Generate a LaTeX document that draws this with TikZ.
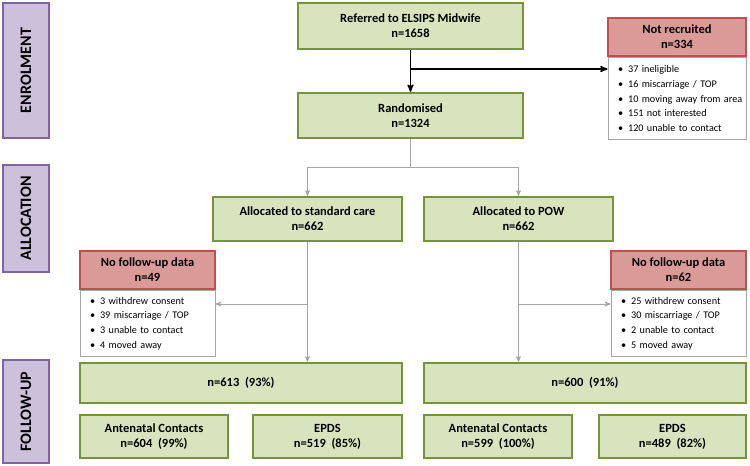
\documentclass[tikz,border=0pt]{standalone}
\usepackage{fontspec}
\setmainfont{Carlito}
\usetikzlibrary{arrows,positioning}
\definecolor{gfill}{HTML}{D7E4BD}
\definecolor{gline}{HTML}{77933C}
\definecolor{rfill}{HTML}{DA9A97}
\definecolor{rline}{HTML}{C0504D}
\definecolor{pfill}{HTML}{CCC0DA}
\definecolor{pline}{HTML}{8064A2}
\definecolor{lgray}{HTML}{A6A6A6}
\newcommand{\itm}[1]{\mbox{\hspace*{7pt}\textbullet\hspace{5pt}#1}}
\begin{document}
\begin{tikzpicture}[x=1pt,y=-1pt,>=stealth',
  phase/.style={draw=pline,fill=pfill,line width=2.2pt,rotate=90,inner sep=0pt,
    font=\fontsize{16}{16}\selectfont\bfseries},
  gbox/.style={draw=gline,fill=gfill,line width=2.2pt,inner sep=0pt,align=center,
    font=\fontsize{12.5}{15}\selectfont\bfseries},
  rbox/.style={draw=rline,fill=rfill,line width=2.2pt,inner sep=0pt,align=center,
    font=\fontsize{12.5}{15}\selectfont\bfseries},
  lbox/.style={draw=lgray,fill=white,line width=0.8pt,inner xsep=3pt,inner ysep=0pt,
    align=left,font=\fontsize{10.2}{14.8}\selectfont},
  conn/.style={draw=lgray,line width=1pt},
  mainconn/.style={draw=black,line width=1.5pt}]
\useasboundingbox (0,0) rectangle (750,466);
\node[phase,minimum width=135,minimum height=46] (enrol) at (26,70.5) {ENROLMENT};
\node[phase,minimum width=107,minimum height=46] (alloc) at (26,218.5) {ALLOCATION};
\node[phase,minimum width=103,minimum height=46] (follow) at (26,411.5) {FOLLOW-UP};

\node[gbox,minimum width=225,minimum height=46] (referred) at (410.5,26) {Referred to ELSIPS Midwife\\n=1658};
\node[gbox,minimum width=225,minimum height=45] (random) at (410.5,115.5) {Randomised\\n=1324};
\node[rbox,minimum width=138,minimum height=38] (notrec) at (677,37) {Not recruited\\n=334};
\node[lbox,text width=132,minimum height=82,below=0pt of notrec] (nrlist)
  {\itm{37 ineligible}\\\itm{16 miscarriage / TOP}\\\itm{10 moving away from area}\\\itm{151 not interested}\\\itm{120 unable to contact}};

\node[gbox,minimum width=189,minimum height=44] (stdcare) at (307.5,219) {Allocated to standard care\\n=662};
\node[gbox,minimum width=189,minimum height=44] (pow) at (518.5,219) {Allocated to POW\\n=662};

\node[rbox,minimum width=135,minimum height=38] (nofu1) at (147.5,270) {No follow-up data\\n=49};
\node[lbox,text width=129,minimum height=66,below=0pt of nofu1] (l1list)
  {\itm{3 withdrew consent}\\\itm{39 miscarriage / TOP}\\\itm{3 unable to contact}\\\itm{4 moved away}};
\node[rbox,minimum width=135,minimum height=38] (nofu2) at (678.5,270) {No follow-up data\\n=62};
\node[lbox,text width=129,minimum height=66,below=0pt of nofu2] (l2list)
  {\itm{25 withdrew consent}\\\itm{30 miscarriage / TOP}\\\itm{2 unable to contact}\\\itm{5 moved away}};

\node[gbox,minimum width=322,minimum height=40] (fu1) at (241,383) {n=613~~(93\%)};
\node[gbox,minimum width=322,minimum height=40] (fu2) at (585,383) {n=600~~(91\%)};
\node[gbox,minimum width=148,minimum height=43] (anc1) at (154,436.5) {Antenatal Contacts\\n=604~~(99\%)};
\node[gbox,minimum width=149,minimum height=43] (epds1) at (327.5,436.5) {EPDS\\n=519~~(85\%)};
\node[gbox,minimum width=148,minimum height=43] (anc2) at (498,436.5) {Antenatal Contacts\\n=599~~(100\%)};
\node[gbox,minimum width=147,minimum height=43] (epds2) at (672.5,436.5) {EPDS\\n=489~~(82\%)};

\coordinate (split) at (410.5,69);
\coordinate (fork) at (410.5,167);
\coordinate (drop1) at (307.5,304);
\coordinate (drop2) at (518.5,304);

\draw[mainconn,->] (referred.south) -- (random.north);
\draw[mainconn,->] (split) -- (split -| nrlist.west);
\draw[conn] (random.south) -- (fork);
\draw[conn,->] (fork) -| (stdcare.north);
\draw[conn,->] (fork) -| (pow.north);
\draw[conn,->] (stdcare.south) -- (stdcare.south |- fu1.north);
\draw[conn,->] (drop1) -- (drop1 -| l1list.east);
\draw[conn,->] (pow.south) -- (pow.south |- fu2.north);
\draw[conn,->] (drop2) -- (drop2 -| l2list.west);
\end{tikzpicture}
\end{document}
